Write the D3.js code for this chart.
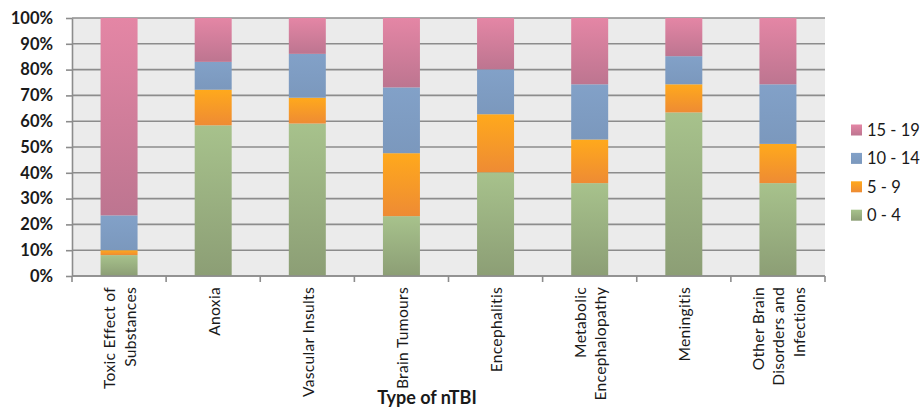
<!DOCTYPE html>
<html><head><meta charset="utf-8">
<script src="https://cdn.jsdelivr.net/npm/d3@7"></script>
<style>body{margin:0;background:#fff}svg{display:block}</style>
</head><body>
<svg id="chart" width="922" height="407"></svg>
<script>
const categories = [
  ["Toxic Effect of","Substances"],
  ["Anoxia"],
  ["Vascular Insults"],
  ["Brain Tumours"],
  ["Encephalitis"],
  ["Metabolic","Encephalopathy"],
  ["Meningitis"],
  ["Other Brain","Disorders and","Infections"]
];
const seriesNames = ["0 - 4","5 - 9","10 - 14","15 - 19"];
const age0_4   = [8.1, 58.4, 59.1, 23.2, 40.2, 36.0, 63.4, 36.0];
const age5_9   = [1.9, 13.8, 10.0, 24.4, 22.5, 16.9, 10.9, 15.2];
const age10_14 = [13.5, 10.8, 17.0, 25.5, 17.4, 21.4, 10.9, 23.1];
const age15_19 = [76.5, 17.0, 13.9, 26.9, 19.9, 25.7, 14.8, 25.7];
const yTicks = [0,10,20,30,40,50,60,70,80,90,100];
const xTitle = "Type of nTBI";

const colors = {
  "0 - 4":   ["#a7c28c","#8c9e75"],
  "5 - 9":   ["#ffa91c","#ee8b34"],
  "10 - 14": ["#82a1c8","#7b98bd"],
  "15 - 19": ["#e486a5","#bd7590"]
};
const FONT = "Lato,'Open Sans',sans-serif";

const svg = d3.select("#chart");
const m = {l:72, r:97, t:18, b:131};
const W = 922 - m.l - m.r, H = 407 - m.t - m.b;

const defs = svg.append("defs");
seriesNames.forEach((s,i)=>{
  const g = defs.append("linearGradient").attr("id","grad"+i)
    .attr("x1",0).attr("y1",0).attr("x2",0).attr("y2",1);
  g.append("stop").attr("offset","0%").attr("stop-color",colors[s][0]);
  g.append("stop").attr("offset","100%").attr("stop-color",colors[s][1]);
});

const keys = categories.map(c=>c.join(" "));
const rows = keys.map((k,i)=>({key:k,"0 - 4":age0_4[i],"5 - 9":age5_9[i],"10 - 14":age10_14[i],"15 - 19":age15_19[i]}));
const stacked = d3.stack().keys(seriesNames)(rows);

const x = d3.scaleBand().domain(keys).range([0,W]).paddingInner(0.607).paddingOuter(0.3035);
const xb = d3.scaleBand().domain(keys).range([0,W]).padding(0);
const y = d3.scaleLinear().domain([0,100]).range([H,0]);

const g = svg.append("g").attr("transform",`translate(${m.l},${m.t})`);
g.append("rect").attr("width",W).attr("height",H).attr("fill","#ebebeb");

g.append("g").selectAll("line").data(yTicks).join("line")
  .attr("x1",0).attr("x2",W).attr("y1",d=>y(d)).attr("y2",d=>y(d))
  .attr("stroke","#8c8c8c").attr("stroke-width",1.6);

g.append("g").selectAll("g").data(stacked).join("g")
  .attr("fill",(d,i)=>`url(#grad${i})`)
  .selectAll("rect").data(d=>d).join("rect")
  .attr("x",d=>x(d.data.key)).attr("width",x.bandwidth())
  .attr("y",d=>y(d[1])).attr("height",d=>y(d[0])-y(d[1]));

// y axis
const ya = g.append("g").call(d3.axisLeft(y).tickValues(yTicks).tickFormat(d=>d+"%").tickSize(6).tickSizeOuter(0));
ya.select(".domain").attr("stroke","#8c8c8c").attr("stroke-width",1.6);
ya.selectAll(".tick line").attr("stroke","#8c8c8c").attr("stroke-width",1.6);
ya.selectAll(".tick text").attr("font-family",FONT)
  .attr("font-weight","bold").attr("font-size","16.5px").attr("fill","#1a1a1a").attr("x",-19);

// x axis baseline and boundary ticks
const bounds = d3.range(categories.length+1).map(i=> i<categories.length ? xb(keys[i]) : W);
g.append("line").attr("x1",0).attr("x2",W).attr("y1",H).attr("y2",H).attr("stroke","#8c8c8c").attr("stroke-width",1.6);
g.append("g").selectAll("line").data(bounds).join("line")
  .attr("x1",d=>d).attr("x2",d=>d).attr("y1",H).attr("y2",H+6)
  .attr("stroke","#8c8c8c").attr("stroke-width",1.6);

// x labels
const lh = 20.5;
const lab = g.append("g").selectAll("text").data(categories).join("text")
  .attr("transform",(d,i)=>`translate(${xb(keys[i])+xb.bandwidth()/2+1},${H+11}) rotate(-90)`)
  .attr("text-anchor","end")
  .attr("font-family",FONT).attr("font-size","15.6px").attr("letter-spacing","0.3px").attr("fill","#1a1a1a");
lab.each(function(d){
  const t = d3.select(this);
  d.forEach((line,j)=>{
    t.append("tspan").attr("x",0)
      .attr("y", (j-(d.length-1)/2)*lh)
      .attr("dy","0.35em").text(line);
  });
});

// x title
svg.append("text").attr("x",427).attr("y",404).attr("text-anchor","middle")
  .attr("font-family",FONT)
  .attr("font-weight","bold").attr("font-size","18px").attr("fill","#1a1a1a").text(xTitle);

// legend
const legendOrder = seriesNames.slice().reverse();
const lg = svg.append("g").attr("transform","translate(851,130)");
const li = lg.selectAll("g").data(legendOrder).join("g").attr("transform",(d,i)=>`translate(0,${i*28.4})`);
li.append("rect").attr("x",0).attr("y",-5.5).attr("width",11).attr("height",11)
  .attr("fill",d=>`url(#grad${seriesNames.indexOf(d)})`);
li.append("text").attr("x",16).attr("dy","0.36em")
  .attr("font-family",FONT).attr("font-size","16.5px").attr("fill","#1a1a1a").text(d=>d);
</script>
</body></html>
